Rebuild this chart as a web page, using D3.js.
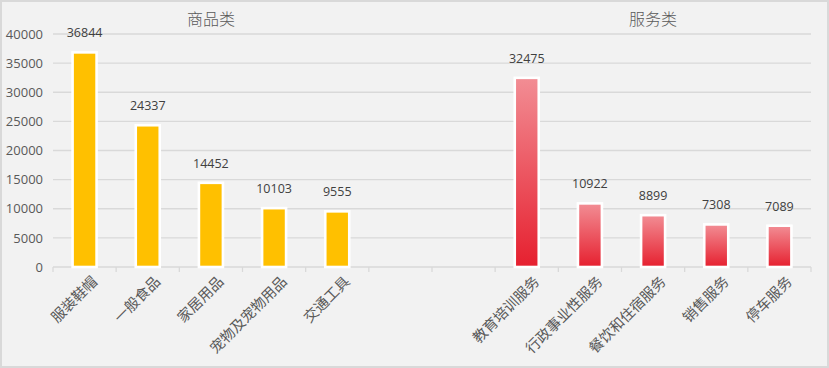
<!DOCTYPE html>
<html>
<head>
<meta charset="utf-8">
<script src="https://cdn.jsdelivr.net/npm/d3@7"></script>
<style>
  body { margin: 0; background: #fff; }
  svg { display: block; font-family: "Noto Sans CJK SC", sans-serif; }
</style>
</head>
<body>
<div id="chart-area"></div>
<script>
// data
var goodsNames = ["服装鞋帽", "一般食品", "家居用品", "宠物及宠物用品", "交通工具"];
var goodsValues = [36844, 24337, 14452, 10103, 9555];
var serviceNames = ["教育培训服务", "行政事业性服务", "餐饮和住宿服务", "销售服务", "停车服务"];
var serviceValues = [32475, 10922, 8899, 7308, 7089];
var yTicks = [0, 5000, 10000, 15000, 20000, 25000, 30000, 35000, 40000];
var groupTitles = ["商品类", "服务类"];

var W = 829, H = 368;
var margin = {left: 53, right: 18, top: 34, bottom: 101};

var svg = d3.select("#chart-area").append("svg")
    .attr("width", W)
    .attr("height", H);

var defs = svg.append("defs");
var grad = defs.append("linearGradient")
    .attr("id", "redGrad")
    .attr("x1", 0).attr("y1", 0).attr("x2", 0).attr("y2", 1);
grad.append("stop").attr("offset", "0%").attr("stop-color", "#f28d94");
grad.append("stop").attr("offset", "100%").attr("stop-color", "#e6202f");

// background + frame
svg.append("rect")
    .attr("x", 1).attr("y", 1)
    .attr("width", W - 2).attr("height", H - 2)
    .attr("fill", "#f2f2f2")
    .attr("stroke", "#d9d9d9")
    .attr("stroke-width", 2);

// build rows, two empty slots between groups
var rows = [];
goodsNames.forEach((n, i) => rows.push({name: n, value: goodsValues[i], group: 0}));
rows.push({name: "_gap1", value: null});
rows.push({name: "_gap2", value: null});
serviceNames.forEach((n, i) => rows.push({name: n, value: serviceValues[i], group: 1}));

var x = d3.scaleBand()
    .domain(rows.map(d => d.name))
    .range([margin.left, W - margin.right])
    .paddingInner(0.62)
    .paddingOuter(0.31);

var slot = x.step();

var y = d3.scaleLinear()
    .domain([0, 40000])
    .range([H - margin.bottom, margin.top]);

// gridlines
svg.append("g")
    .selectAll("line")
    .data(yTicks.slice(1))
    .enter()
    .append("line")
    .attr("x1", margin.left)
    .attr("x2", W - margin.right)
    .attr("y1", d => y(d))
    .attr("y2", d => y(d))
    .attr("stroke", "#d9d9d9")
    .attr("stroke-width", 1.3);

// y axis labels
var yAxis = d3.axisLeft(y).tickValues(yTicks).tickFormat(d3.format("d")).tickSize(0).tickPadding(10);
var gy = svg.append("g")
    .attr("transform", "translate(" + margin.left + ",0)")
    .call(yAxis);
gy.select(".domain").remove();
gy.selectAll("text")
    .attr("fill", "#595959")
    .style("font-family", "'Open Sans', sans-serif")
    .style("font-size", "13px");

// x axis line + ticks at slot boundaries
var y0 = y(0);
svg.append("line")
    .attr("x1", margin.left).attr("x2", W - margin.right)
    .attr("y1", y0).attr("y2", y0)
    .attr("stroke", "#d9d9d9").attr("stroke-width", 1.3);
var bounds = d3.range(rows.length + 1).map(i => margin.left + i * slot);
svg.append("g")
    .selectAll("line")
    .data(bounds)
    .enter()
    .append("line")
    .attr("x1", d => d).attr("x2", d => d)
    .attr("y1", y0).attr("y2", y0 + 5)
    .attr("stroke", "#d9d9d9").attr("stroke-width", 1.3);

var bars = rows.filter(d => d.value !== null);

// bars
svg.append("g")
    .selectAll("rect")
    .data(bars)
    .enter()
    .append("rect")
    .attr("x", d => x(d.name))
    .attr("y", d => y(d.value))
    .attr("width", x.bandwidth())
    .attr("height", d => y0 - y(d.value))
    .attr("fill", d => d.group === 0 ? "#ffc000" : "url(#redGrad)")
    .attr("stroke", "#ffffff")
    .attr("stroke-width", 2.6);

// value labels
svg.append("g")
    .selectAll("text")
    .data(bars)
    .enter()
    .append("text")
    .attr("x", d => x(d.name) + x.bandwidth() / 2)
    .attr("y", d => y(d.value) - 15)
    .attr("text-anchor", "middle")
    .attr("fill", "#404040")
    .style("font-family", "'Open Sans', sans-serif")
    .style("font-size", "12.5px")
    .text(d => d.value);

// category labels, rotated
svg.append("g")
    .selectAll("text")
    .data(bars)
    .enter()
    .append("text")
    .attr("transform", d => "translate(" + (x(d.name) + x.bandwidth() / 2 + 10) + "," + (y0 + 12) + ") rotate(-45)")
    .attr("text-anchor", "end")
    .attr("dy", "0.35em")
    .attr("fill", "#595959")
    .style("font-size", "14.5px")
    .text(d => d.name);

// group titles
var titleX = [
    (x(goodsNames[0]) + x(goodsNames[4]) + x.bandwidth()) / 2,
    (x(serviceNames[0]) + x(serviceNames[4]) + x.bandwidth()) / 2
];
svg.append("g")
    .selectAll("text")
    .data(groupTitles)
    .enter()
    .append("text")
    .attr("x", (d, i) => titleX[i])
    .attr("y", 25)
    .attr("text-anchor", "middle")
    .attr("fill", "#595959")
    .style("font-size", "16px")
    .style("font-weight", 300)
    .text(d => d);
</script>
</body>
</html>
